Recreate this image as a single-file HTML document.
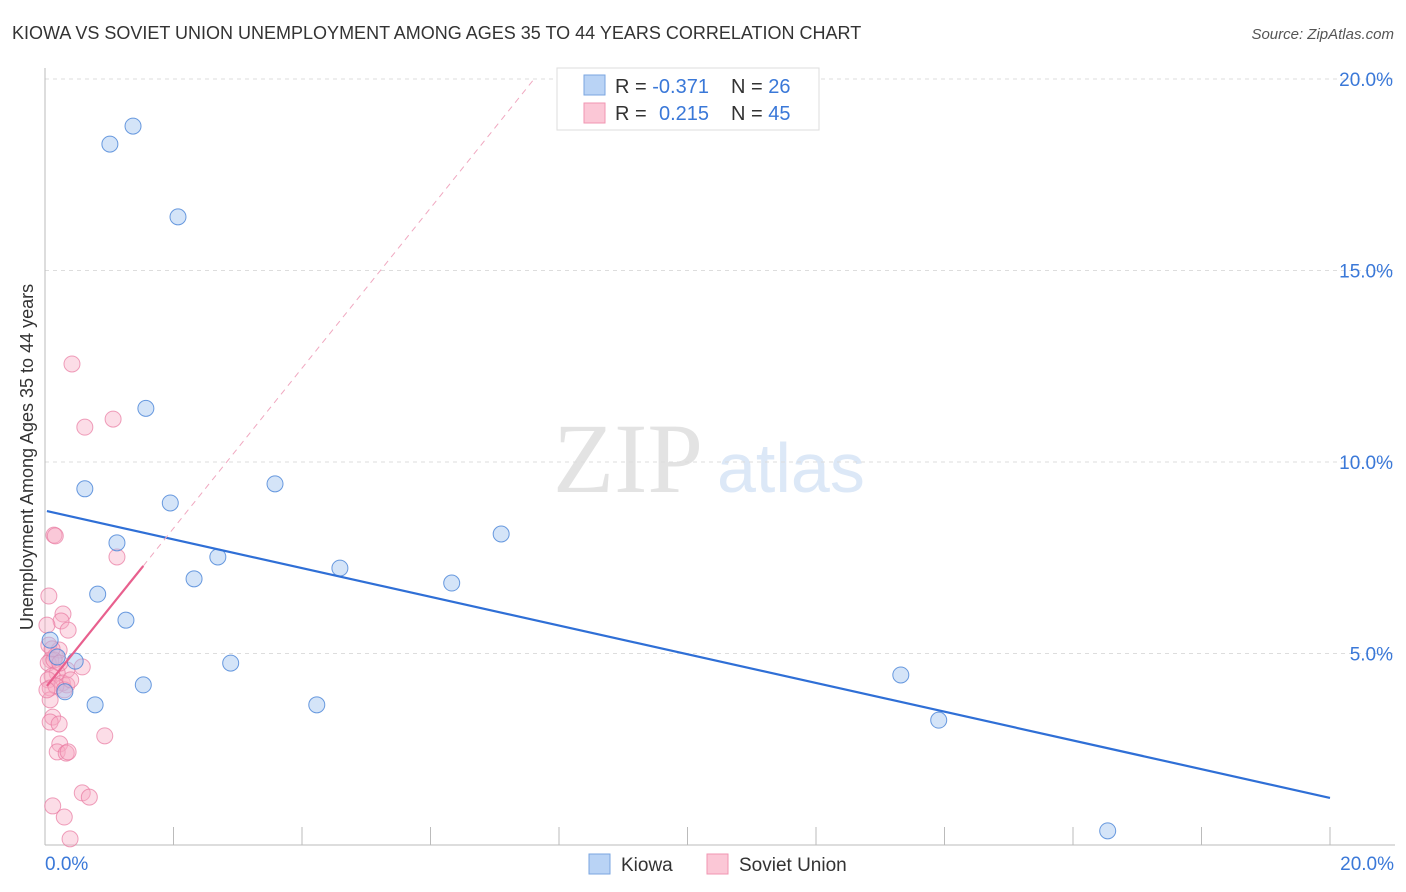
<!DOCTYPE html>
<html><head><meta charset="utf-8"><style>
body{margin:0;background:#fff;font-family:"Liberation Sans",sans-serif}
svg{display:block}
</style></head><body>
<svg id="chart" width="1406" height="892" xmlns="http://www.w3.org/2000/svg" font-family="Liberation Sans, sans-serif">
<text x="12" y="39" font-size="18" fill="#333">KIOWA VS SOVIET UNION UNEMPLOYMENT AMONG AGES 35 TO 44 YEARS CORRELATION CHART</text>
<text x="1394" y="39" font-size="15" fill="#555" text-anchor="end" font-style="italic">Source: ZipAtlas.com</text>
<text x="553" y="492" font-size="100" fill="#e3e3e3" font-family="Liberation Serif, serif">ZIP</text>
<text x="717" y="492" font-size="70" fill="#dce8f7">atlas</text>
<text transform="translate(33,457) rotate(-90)" font-size="18" fill="#333" text-anchor="middle">Unemployment Among Ages 35 to 44 years</text>
<g id="grid"></g><g id="axes"></g><g id="marks"></g>
<g>
<rect x="557" y="68" width="262" height="62" fill="#fff" stroke="#ddd"/>
<rect x="584" y="75" width="21" height="20" fill="#b9d3f5" stroke="#7aa6e0"/>
<rect x="584" y="103" width="21" height="20" fill="#fbc7d6" stroke="#f096b2"/>
<text x="615" y="93" font-size="20" fill="#333">R = <tspan fill="#3a78d8">-0.371</tspan></text>
<text x="731" y="93" font-size="20" fill="#333">N = <tspan fill="#3a78d8">26</tspan></text>
<text x="615" y="120" font-size="20" fill="#333">R = <tspan fill="#3a78d8" x="659">0.215</tspan></text>
<text x="731" y="120" font-size="20" fill="#333">N = <tspan fill="#3a78d8">45</tspan></text>
</g>
<g>
<rect x="589" y="854" width="21" height="20" fill="#b9d3f5" stroke="#7aa6e0"/>
<text x="621" y="871" font-size="19" fill="#333">Kiowa</text>
<rect x="707" y="854" width="21" height="20" fill="#fbc7d6" stroke="#f096b2"/>
<text x="739" y="871" font-size="19" fill="#333">Soviet Union</text>
</g>
</svg>
<script>
const kiowaX=[1.01,1.37,2.07,1.57,0.62,1.95,3.58,1.12,2.69,2.32,4.59,6.33,7.10,0.82,1.26,2.89,1.53,0.78,4.23,13.32,13.91,16.54,0.31,0.19,0.47,0.08];
const kiowaY=[18.3,18.77,16.4,11.4,9.3,8.93,9.43,7.89,7.52,6.95,7.23,6.84,8.12,6.55,5.87,4.75,4.18,3.66,3.66,4.44,3.26,0.37,4.0,4.91,4.8,5.35];
const sovietX=[0.42,0.62,1.06,0.14,1.12,0.06,0.28,0.25,0.36,0.03,0.06,0.16,0.22,0.09,0.05,0.58,0.34,0.19,0.11,0.05,0.27,0.34,0.08,0.17,0.08,0.12,0.08,0.22,0.93,0.23,0.19,0.33,0.36,0.58,0.69,0.12,0.30,0.39,0.16,0.14,0.23,0.03,0.30,0.40,0.11];
const sovietY=[12.56,10.91,11.12,8.09,7.52,6.5,6.03,5.85,5.61,5.74,5.22,4.93,5.09,4.83,4.75,4.65,4.57,4.49,4.41,4.31,4.23,4.18,4.10,4.15,3.79,3.34,3.21,3.16,2.85,2.64,2.43,2.40,2.43,1.36,1.25,1.02,0.73,0.16,8.07,4.83,4.75,4.05,4.05,4.31,5.12];
const kiowaTrend=[8.73,-0.375];
const sovietTrend=[4.09,2.09];
const yTicks=[5,10,15,20];
const xTickLabels=["0.0%","20.0%"];
const NS="http://www.w3.org/2000/svg";
const X=v=>45+v*64.25, Y=v=>845-v*38.3;
function mk(tag,attrs,parent){const e=document.createElementNS(NS,tag);for(const k in attrs)e.setAttribute(k,attrs[k]);parent.appendChild(e);return e;}
const grid=document.getElementById('grid'),axes=document.getElementById('axes'),marks=document.getElementById('marks');
yTicks.forEach(t=>{
 const l=mk('line',{x1:45,x2:1395,y1:Y(t),y2:Y(t),stroke:'#ddd','stroke-dasharray':'4,4'},grid);
 
 
 const tx=mk('text',{x:1393,y:Y(t)+7,'font-size':19,fill:'#3a78d8','text-anchor':'end'},axes);
 tx.textContent=t.toFixed(1)+'%';
 
 
});
const ax=mk('line',{x1:45,x2:45,y1:68,y2:845,stroke:'#bbb'},axes);


const bx=mk('line',{x1:45,x2:1395,y1:845,y2:845,stroke:'#bbb'},axes);


for(let i=1;i<=10;i++){
 const t=mk('line',{x1:X(i*2),x2:X(i*2),y1:827,y2:845,stroke:'#bbb'},axes);
 
 
}
[[0,'start',45],[20,'end',1394]].forEach((p,i)=>{
 const tx=mk('text',{x:p[2],y:870,'font-size':19,fill:'#3a78d8','text-anchor':p[1]},axes);
 tx.textContent=xTickLabels[i];
 
 
});
sovietX.forEach((v,i)=>{
 const c=mk('circle',{cx:X(v),cy:Y(sovietY[i]),r:8,fill:'rgba(248,170,195,0.4)',stroke:'rgba(232,120,160,0.7)','stroke-width':1},marks);
 
 
});
kiowaX.forEach((v,i)=>{
 const c=mk('circle',{cx:X(v),cy:Y(kiowaY[i]),r:8,fill:'rgba(160,195,240,0.45)',stroke:'rgba(70,130,215,0.8)','stroke-width':1},marks);
 
 
});
const kl=mk('line',{x1:X(0.03),y1:Y(kiowaTrend[0]+kiowaTrend[1]*0.03),x2:X(20),y2:Y(kiowaTrend[0]+kiowaTrend[1]*20),stroke:'#2f6fd6','stroke-width':2.2},marks);


const sEnd=(20-sovietTrend[0])/sovietTrend[1];
const sd=mk('line',{x1:X(1.53),y1:Y(sovietTrend[0]+sovietTrend[1]*1.53),x2:X(sEnd),y2:Y(20),stroke:'#f0a8c0','stroke-width':1,'stroke-dasharray':'6,5'},marks);


const sl=mk('line',{x1:X(0.03),y1:Y(sovietTrend[0]+sovietTrend[1]*0.03),x2:X(1.53),y2:Y(sovietTrend[0]+sovietTrend[1]*1.53),stroke:'#e8608e','stroke-width':2.2},marks);


</script>
</body></html>
